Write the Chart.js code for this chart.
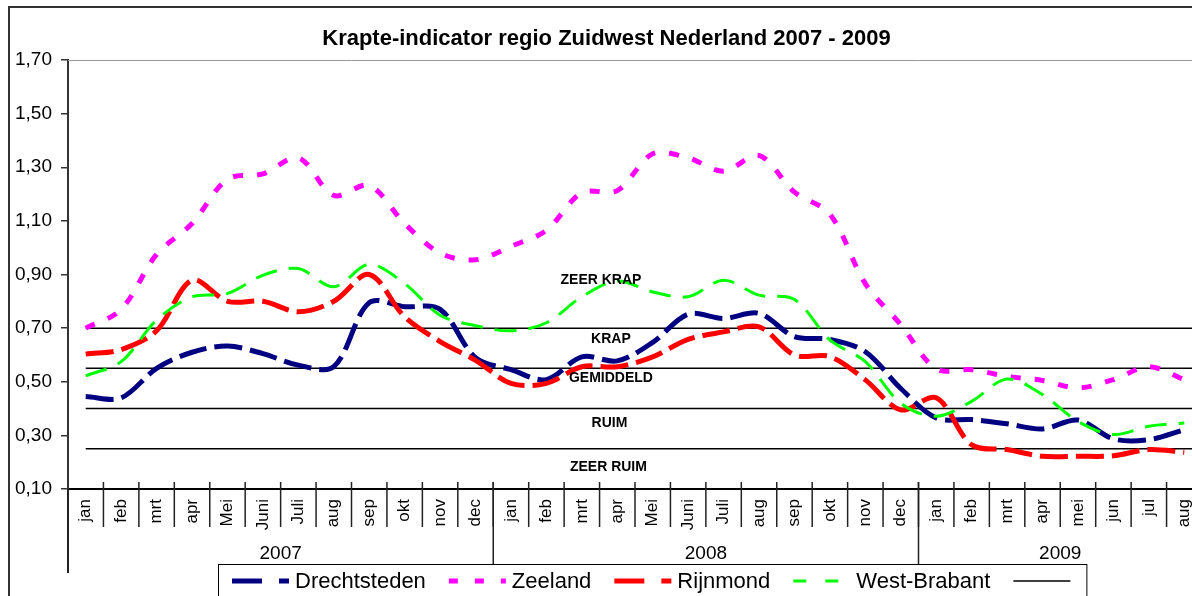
<!DOCTYPE html>
<html>
<head>
<meta charset="utf-8">
<title>Krapte-indicator regio Zuidwest Nederland 2007 - 2009</title>
<script src="https://cdn.jsdelivr.net/npm/chart.js@4.4.0/dist/chart.umd.min.js"></script>
<style>
  html, body { margin: 0; padding: 0; background: #fff; overflow: hidden; }
</style>
</head>
<body>
<canvas id="chart" width="1215" height="610"></canvas>
<script>
const titel = 'Krapte-indicator regio Zuidwest Nederland 2007 - 2009';

const maanden = ['jan', 'feb', 'mrt', 'apr', 'Mei', 'Juni', 'Juli', 'aug', 'sep', 'okt', 'nov', 'dec',
  'jan', 'feb', 'mrt', 'apr', 'Mei', 'Juni', 'Juli', 'aug', 'sep', 'okt', 'nov', 'dec',
  'jan', 'feb', 'mrt', 'apr', 'mei', 'jun', 'jul', 'aug'];
const jaren = ['2007', '2008', '2009'];
const maandenPerJaar = [12, 12, 8];

const drechtsteden = [0.445, 0.44, 0.55, 0.61, 0.633, 0.605, 0.562, 0.556, 0.795, 0.78, 0.77, 0.59,
  0.545, 0.508, 0.593, 0.578, 0.647, 0.752, 0.736, 0.755, 0.668, 0.658, 0.612, 0.475,
  0.365, 0.359, 0.343, 0.324, 0.357, 0.287, 0.284, 0.321];
const zeeland = [0.70, 0.77, 0.975, 1.09, 1.255, 1.275, 1.335, 1.195, 1.232, 1.09, 0.98, 0.955,
  1.005, 1.065, 1.205, 1.213, 1.35, 1.335, 1.285, 1.344, 1.207, 1.125, 0.866, 0.713,
  0.548, 0.545, 0.52, 0.505, 0.477, 0.508, 0.556, 0.508];
const rijnmond = [0.603, 0.62, 0.69, 0.879, 0.80, 0.80, 0.761, 0.80, 0.90, 0.742, 0.65, 0.58,
  0.494, 0.494, 0.556, 0.556, 0.593, 0.658, 0.686, 0.705, 0.60, 0.594, 0.507, 0.395,
  0.44, 0.265, 0.247, 0.222, 0.222, 0.224, 0.247, 0.237];
const westBrabant = [0.522, 0.575, 0.73, 0.817, 0.829, 0.897, 0.922, 0.854, 0.938, 0.866, 0.748, 0.709,
  0.69, 0.72, 0.817, 0.876, 0.835, 0.817, 0.879, 0.823, 0.807, 0.656, 0.575, 0.42,
  0.371, 0.427, 0.51, 0.452, 0.352, 0.303, 0.334, 0.346];

// grenzen tussen de zones
const grenzen = [0.70, 0.55, 0.40, 0.25];
const zones = ['ZEER KRAP', 'KRAP', 'GEMIDDELD', 'RUIM', 'ZEER RUIM'];

const fontFam = '"Liberation Sans", Arial, sans-serif';

function lijn(ctx, x1, y1, x2, y2) {
  ctx.beginPath();
  ctx.moveTo(x1, y1);
  ctx.lineTo(x2, y2);
  ctx.stroke();
}

const decor = {
  id: 'decor',
  beforeDraw(chart) {
    const ctx = chart.ctx;
    ctx.save();
    ctx.fillStyle = '#fff';
    ctx.fillRect(0, 0, chart.width, chart.height);
    ctx.strokeStyle = '#333';
    ctx.lineWidth = 2;
    ctx.strokeRect(9, 7, chart.width - 15, chart.height - 12);
    ctx.restore();
  },
  beforeDatasetsDraw(chart) {
    const { ctx, chartArea: a, scales: { x, y } } = chart;
    ctx.save();
    ctx.strokeStyle = '#999';
    ctx.lineWidth = 1;
    lijn(ctx, a.left, a.top + 0.5, a.right, a.top + 0.5);
    ctx.strokeStyle = '#000';
    ctx.lineWidth = 1.5;
    const x0 = x.getPixelForValue(0);
    grenzen.forEach(g => {
      const py = y.getPixelForValue(g);
      lijn(ctx, x0, py, a.right, py);
    });
    ctx.restore();
  },
  afterDraw(chart, args, opts) {
    const { ctx, chartArea: a, scales: { x, y } } = chart;
    ctx.save();
    ctx.fillStyle = '#000';

    // titel
    ctx.font = 'bold 22px ' + fontFam;
    ctx.textAlign = 'center';
    ctx.textBaseline = 'alphabetic';
    ctx.fillText(titel, chart.width / 2 - 1, 45);

    // zone labels
    ctx.font = 'bold 14px ' + fontFam;
    ctx.textBaseline = 'middle';
    zones.forEach((z, i) => {
      ctx.fillText(z, x.getPixelForValue(opts.zoneX[i]), y.getPixelForValue(opts.zoneY[i]));
    });

    // streepjes tussen de maanden
    const half = (x.getPixelForValue(1) - x.getPixelForValue(0)) / 2;
    ctx.strokeStyle = '#222';
    ctx.lineWidth = 1.5;
    for (let i = 1; i < maanden.length; i++) {
      const px = x.getPixelForValue(i) - half;
      lijn(ctx, px, a.bottom - 7, px, a.bottom + 38);
    }

    // jaren
    ctx.font = '19px ' + fontFam;
    let start = 0;
    jaren.forEach((j, k) => {
      const end = start + maandenPerJaar[k];
      const xl = x.getPixelForValue(start) - half;
      const xr = x.getPixelForValue(end - 1) + half;
      if (k > 0) lijn(ctx, xl, a.bottom - 7, xl, a.bottom + 75);
      ctx.fillText(j, (xl + xr) / 2, a.bottom + 65);
      start = end;
    });
    ctx.lineWidth = 2;
    lijn(ctx, a.left, a.bottom, a.left, a.bottom + 84);

    // legenda
    const items = chart.data.datasets.map(d => ({
      label: d.label, color: d.borderColor, width: d.borderWidth, dash: d.legendDash
    }));
    items.push({ label: '', color: '#000', width: 1.5, dash: [] });
    const ly = 581;
    let lx = 232;
    ctx.font = '22px ' + fontFam;
    ctx.textAlign = 'left';
    items.forEach(it => {
      ctx.strokeStyle = it.color;
      ctx.lineWidth = it.width;
      ctx.setLineDash(it.dash);
      lijn(ctx, lx, ly, lx + 57, ly);
      ctx.setLineDash([]);
      lx += 57;
      if (it.label) {
        ctx.fillText(it.label, lx + 6, ly + 1);
        lx += 6 + ctx.measureText(it.label).width + 23;
      }
    });
    ctx.strokeStyle = '#000';
    ctx.lineWidth = 1;
    ctx.strokeRect(218.5, 564.5, lx + 16 - 218, 40);
    ctx.restore();
  }
};

new Chart(document.getElementById('chart'), {
  type: 'line',
  data: {
    labels: maanden,
    datasets: [
      { label: 'Drechtsteden', data: drechtsteden, borderColor: '#000080', borderWidth: 5,
        borderDash: [28, 8], legendDash: [30, 17], order: 4 },
      { label: 'Zeeland', data: zeeland, borderColor: '#ff00ff', borderWidth: 5,
        borderDash: [10, 14], legendDash: [9, 17], order: 3 },
      { label: 'Rijnmond', data: rijnmond, borderColor: '#ff0000', borderWidth: 5,
        borderDash: [28, 8], legendDash: [30, 17], order: 2 },
      { label: 'West-Brabant', data: westBrabant, borderColor: '#00ff00', borderWidth: 3,
        borderDash: [22, 12], legendDash: [13, 19], order: 1 }
    ]
  },
  options: {
    responsive: false,
    animation: false,
    layout: { padding: { left: 0, right: 13, top: 60, bottom: 0 } },
    elements: {
      point: { radius: 0, hoverRadius: 0 },
      line: { tension: 0.33, fill: false }
    },
    plugins: {
      legend: { display: false },
      title: { display: false },
      tooltip: { enabled: false },
      decor: {
        zoneX: [14.54, 14.82, 14.82, 14.78, 14.75],
        zoneY: [0.88, 0.66, 0.515, 0.345, 0.18]
      }
    },
    scales: {
      x: {
        offset: true,
        grid: { display: false, drawTicks: false },
        border: { color: '#000', width: 2 },
        ticks: {
          autoSkip: false, maxRotation: 90, minRotation: 90, padding: 10,
          color: '#000', font: { family: fontFam, size: 17 }
        },
        afterFit: s => { s.height = 121; }
      },
      y: {
        min: 0.1,
        max: 1.7,
        grid: { drawOnChartArea: false, tickLength: 7, color: '#333', lineWidth: 1.5 },
        border: { color: '#333', width: 2 },
        ticks: {
          stepSize: 0.2, padding: 9, color: '#000',
          font: { family: fontFam, size: 19 },
          callback: v => v.toFixed(2).replace('.', ',')
        },
        afterFit: s => { s.width = 68; }
      }
    }
  },
  plugins: [decor]
});
</script>
</body>
</html>
